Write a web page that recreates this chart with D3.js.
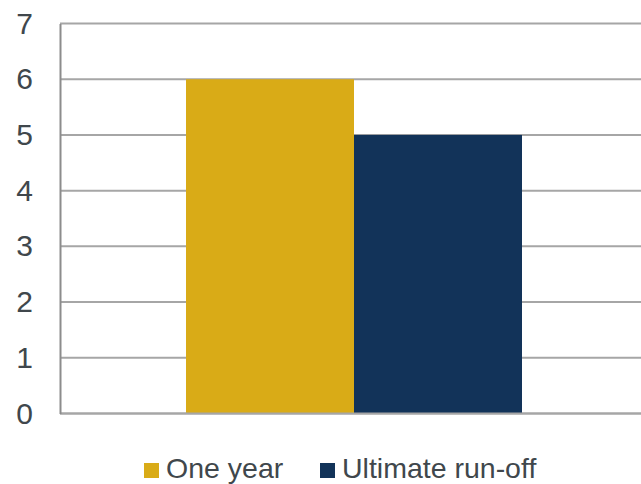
<!DOCTYPE html>
<html>
<head>
<meta charset="utf-8">
<script src="https://cdn.jsdelivr.net/npm/d3@7"></script>
<style>
  body { margin: 0; background: #fff; }
  text { font-family: "Liberation Sans", Arial, sans-serif; fill: #40474c; }
</style>
</head>
<body>
<script>
var categories = ["Total"];
var seriesNames = ["One year", "Ultimate run-off"];
var seriesValues = [6, 5];
var seriesColors = ["#d9ab17", "#123359"];
var yTicks = [0, 1, 2, 3, 4, 5, 6, 7];

var w = 641;
var h = 484;

var svg = d3.select("body")
    .append("svg")
    .attr("width", w)
    .attr("height", h);

var plotLeft = 60, plotRight = 648, plotTop = 23.5, plotBottom = 413.5;

var y = d3.scaleLinear().domain([0, 7]).range([plotBottom, plotTop]);

var x = d3.scaleBand()
    .domain(categories)
    .range([plotLeft, plotRight])
    .paddingInner(0)
    .paddingOuter(0.375);

var xs = d3.scaleBand()
    .domain(seriesNames)
    .range([0, x.bandwidth()]);

// gridlines
svg.selectAll("line.grid")
    .data(yTicks)
    .enter()
    .append("line")
    .attr("class", "grid")
    .attr("x1", plotLeft)
    .attr("x2", w)
    .attr("y1", function (d) { return y(d); })
    .attr("y2", function (d) { return y(d); })
    .attr("stroke", "#a6a6a6")
    .attr("stroke-width", 2);

// bars
svg.selectAll("rect.bar")
    .data(seriesValues)
    .enter()
    .append("rect")
    .attr("class", "bar")
    .attr("x", function (d, i) { return x(categories[0]) + xs(seriesNames[i]); })
    .attr("width", xs.bandwidth())
    .attr("y", function (d) { return y(d); })
    .attr("height", function (d) { return y(0) - y(d); })
    .attr("fill", function (d, i) { return seriesColors[i]; });

// baseline
svg.append("line")
    .attr("x1", plotLeft).attr("x2", w)
    .attr("y1", y(0)).attr("y2", y(0))
    .attr("stroke", "#a6a6a6")
    .attr("stroke-width", 2);

// y axis
var yAxis = d3.axisLeft(y)
    .tickValues(yTicks)
    .tickFormat(d3.format("d"))
    .tickSize(0)
    .tickPadding(27);
var ga = svg.append("g")
    .attr("transform", "translate(" + plotLeft + ",0)")
    .call(yAxis);
ga.select(".domain")
    .attr("stroke", "#8c8c8c")
    .attr("stroke-width", 2);
ga.selectAll("text")
    .attr("font-size", 30)
    .attr("font-family", "Liberation Sans, Arial, sans-serif")
    .attr("fill", "#40474c");

// legend
var legendX = [144, 320];
var lg = svg.selectAll("g.legend")
    .data(seriesNames)
    .enter()
    .append("g")
    .attr("class", "legend")
    .attr("transform", function (d, i) { return "translate(" + legendX[i] + ",463)"; });

lg.append("rect")
    .attr("width", 15)
    .attr("height", 15)
    .attr("fill", function (d, i) { return seriesColors[i]; });

lg.append("text")
    .attr("x", 22)
    .attr("y", 15)
    .attr("font-size", 28.5)
    .text(function (d) { return d; });
</script>
</body>
</html>
